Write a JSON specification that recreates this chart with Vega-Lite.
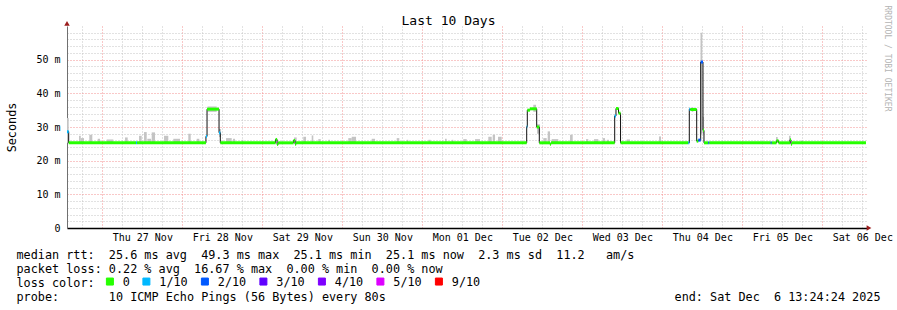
{
  "$schema": "https://vega.github.io/schema/vega-lite/v6.json",
  "width": 800,
  "height": 202,
  "autosize": {"type": "none"},
  "padding": {"left": 67, "top": 26, "right": 30, "bottom": 82},
  "background": "white",
  "config": {
    "font": "DejaVu Sans Mono",
    "view": {"stroke": null},
    "axis": {"labelFont": "DejaVu Sans Mono", "titleFont": "DejaVu Sans Mono", "titleFontWeight": "normal", "titleColor": "#000", "labelColor": "#000"}
  },
  "datasets": {
    "med": [
      {"t0":"2025-11-26T13:24:24Z","t1":"2025-11-26T13:55:00Z","v":28.6,"loss":"1/10"},
      {"t0":"2025-11-26T13:55:00Z","t1":"2025-11-27T10:07:00Z","v":25.3,"loss":"0"},
      {"t0":"2025-11-27T10:07:00Z","t1":"2025-11-27T10:25:00Z","v":25.3,"loss":"1/10"},
      {"t0":"2025-11-27T10:25:00Z","t1":"2025-11-28T07:05:00Z","v":25.3,"loss":"0"},
      {"t0":"2025-11-28T07:05:00Z","t1":"2025-11-28T07:25:00Z","v":27.2,"loss":"1/10"},
      {"t0":"2025-11-28T07:25:00Z","t1":"2025-11-28T11:01:00Z","v":35.3,"loss":"0"},
      {"t0":"2025-11-28T11:01:00Z","t1":"2025-11-28T11:24:00Z","v":28.3,"loss":"1/10"},
      {"t0":"2025-11-28T11:24:00Z","t1":"2025-11-29T03:59:00Z","v":25.3,"loss":"0"},
      {"t0":"2025-11-29T03:59:00Z","t1":"2025-11-29T04:26:00Z","v":26.3,"loss":"0"},
      {"t0":"2025-11-29T04:26:00Z","t1":"2025-11-29T04:44:00Z","v":24.8,"loss":"0"},
      {"t0":"2025-11-29T04:44:00Z","t1":"2025-11-29T09:22:00Z","v":25.3,"loss":"0"},
      {"t0":"2025-11-29T09:22:00Z","t1":"2025-11-29T09:50:00Z","v":26.0,"loss":"0"},
      {"t0":"2025-11-29T09:50:00Z","t1":"2025-11-29T10:08:00Z","v":24.9,"loss":"0"},
      {"t0":"2025-11-29T10:08:00Z","t1":"2025-12-02T07:19:00Z","v":25.3,"loss":"0"},
      {"t0":"2025-12-02T07:19:00Z","t1":"2025-12-02T07:30:00Z","v":30.1,"loss":"1/10"},
      {"t0":"2025-12-02T07:30:00Z","t1":"2025-12-02T08:18:00Z","v":35.0,"loss":"0"},
      {"t0":"2025-12-02T08:18:00Z","t1":"2025-12-02T10:19:00Z","v":35.4,"loss":"0"},
      {"t0":"2025-12-02T10:19:00Z","t1":"2025-12-02T11:06:00Z","v":30.0,"loss":"0"},
      {"t0":"2025-12-02T11:06:00Z","t1":"2025-12-02T14:18:00Z","v":25.3,"loss":"0"},
      {"t0":"2025-12-02T14:18:00Z","t1":"2025-12-02T14:36:00Z","v":24.9,"loss":"0"},
      {"t0":"2025-12-02T14:36:00Z","t1":"2025-12-03T09:43:00Z","v":25.3,"loss":"0"},
      {"t0":"2025-12-03T09:43:00Z","t1":"2025-12-03T10:06:00Z","v":33.3,"loss":"1/10"},
      {"t0":"2025-12-03T10:06:00Z","t1":"2025-12-03T10:52:00Z","v":35.5,"loss":"0"},
      {"t0":"2025-12-03T10:52:00Z","t1":"2025-12-03T11:28:00Z","v":34.1,"loss":"0"},
      {"t0":"2025-12-03T11:28:00Z","t1":"2025-12-04T07:48:00Z","v":25.3,"loss":"0"},
      {"t0":"2025-12-04T07:48:00Z","t1":"2025-12-04T08:06:00Z","v":25.3,"loss":"1/10"},
      {"t0":"2025-12-04T08:06:00Z","t1":"2025-12-04T08:24:00Z","v":35.3,"loss":"1/10"},
      {"t0":"2025-12-04T08:24:00Z","t1":"2025-12-04T10:19:00Z","v":35.2,"loss":"0"},
      {"t0":"2025-12-04T10:19:00Z","t1":"2025-12-04T10:48:00Z","v":25.8,"loss":"0"},
      {"t0":"2025-12-04T10:48:00Z","t1":"2025-12-04T11:31:00Z","v":26.1,"loss":"2/10"},
      {"t0":"2025-12-04T11:31:00Z","t1":"2025-12-04T12:12:00Z","v":49.3,"loss":"2/10"},
      {"t0":"2025-12-04T12:12:00Z","t1":"2025-12-04T12:30:00Z","v":29.0,"loss":"0"},
      {"t0":"2025-12-04T12:30:00Z","t1":"2025-12-04T13:48:00Z","v":25.3,"loss":"0"},
      {"t0":"2025-12-04T13:48:00Z","t1":"2025-12-04T14:06:00Z","v":25.3,"loss":"2/10"},
      {"t0":"2025-12-04T14:06:00Z","t1":"2025-12-05T08:31:00Z","v":25.3,"loss":"0"},
      {"t0":"2025-12-05T08:31:00Z","t1":"2025-12-05T08:49:00Z","v":25.3,"loss":"2/10"},
      {"t0":"2025-12-05T08:49:00Z","t1":"2025-12-05T10:16:00Z","v":25.3,"loss":"0"},
      {"t0":"2025-12-05T10:16:00Z","t1":"2025-12-05T10:52:00Z","v":25.9,"loss":"0"},
      {"t0":"2025-12-05T10:52:00Z","t1":"2025-12-05T14:18:00Z","v":25.3,"loss":"0"},
      {"t0":"2025-12-05T14:18:00Z","t1":"2025-12-05T14:36:00Z","v":26.2,"loss":"0"},
      {"t0":"2025-12-05T14:36:00Z","t1":"2025-12-05T14:54:00Z","v":24.9,"loss":"0"},
      {"t0":"2025-12-05T14:54:00Z","t1":"2025-12-06T13:06:00Z","v":25.3,"loss":"0"}
    ],
    "smoke": [
      {"t0":"2025-11-26T13:24:24Z","t1":"2025-11-26T13:55:00Z","lo":25.3,"hi":32.7},
      {"t0":"2025-11-26T17:01:00Z","t1":"2025-11-26T17:32:00Z","lo":25.3,"hi":27.4},
      {"t0":"2025-11-26T17:32:00Z","t1":"2025-11-26T18:31:00Z","lo":25.3,"hi":26.7},
      {"t0":"2025-11-26T20:06:00Z","t1":"2025-11-26T21:00:00Z","lo":25.3,"hi":27.7},
      {"t0":"2025-11-26T22:37:00Z","t1":"2025-11-26T23:19:00Z","lo":25.3,"hi":26.5},
      {"t0":"2025-11-27T01:19:00Z","t1":"2025-11-27T03:18:00Z","lo":25.3,"hi":26.3},
      {"t0":"2025-11-27T06:49:00Z","t1":"2025-11-27T07:37:00Z","lo":25.3,"hi":26.9},
      {"t0":"2025-11-27T11:01:00Z","t1":"2025-11-27T11:49:00Z","lo":25.3,"hi":27.4},
      {"t0":"2025-11-27T12:31:00Z","t1":"2025-11-27T13:19:00Z","lo":25.3,"hi":28.5},
      {"t0":"2025-11-27T13:30:00Z","t1":"2025-11-27T14:37:00Z","lo":25.3,"hi":26.5},
      {"t0":"2025-11-27T14:49:00Z","t1":"2025-11-27T15:49:00Z","lo":25.3,"hi":28.4},
      {"t0":"2025-11-27T18:31:00Z","t1":"2025-11-27T19:48:00Z","lo":25.3,"hi":27.4},
      {"t0":"2025-11-27T21:18:00Z","t1":"2025-11-27T23:19:00Z","lo":25.3,"hi":26.5},
      {"t0":"2025-11-28T01:48:00Z","t1":"2025-11-28T02:31:00Z","lo":25.3,"hi":28.0},
      {"t0":"2025-11-28T04:19:00Z","t1":"2025-11-28T05:06:00Z","lo":25.3,"hi":26.5},
      {"t0":"2025-11-28T07:34:00Z","t1":"2025-11-28T10:19:00Z","lo":34.5,"hi":36.1},
      {"t0":"2025-11-28T11:01:00Z","t1":"2025-11-28T11:37:00Z","lo":27.0,"hi":29.4},
      {"t0":"2025-11-28T13:07:00Z","t1":"2025-11-28T14:49:00Z","lo":25.3,"hi":26.7},
      {"t0":"2025-11-28T15:13:00Z","t1":"2025-11-28T15:49:00Z","lo":25.3,"hi":26.5},
      {"t0":"2025-11-28T17:49:00Z","t1":"2025-11-28T18:18:00Z","lo":25.3,"hi":26.2},
      {"t0":"2025-11-29T09:31:00Z","t1":"2025-11-29T10:19:00Z","lo":25.3,"hi":26.9},
      {"t0":"2025-11-29T12:18:00Z","t1":"2025-11-29T13:07:00Z","lo":25.3,"hi":27.1},
      {"t0":"2025-11-29T14:49:00Z","t1":"2025-11-29T15:18:00Z","lo":25.3,"hi":27.5},
      {"t0":"2025-11-29T16:48:00Z","t1":"2025-11-29T17:31:00Z","lo":25.3,"hi":26.4},
      {"t0":"2025-11-29T19:48:00Z","t1":"2025-11-29T20:19:00Z","lo":25.3,"hi":26.2},
      {"t0":"2025-11-30T01:48:00Z","t1":"2025-11-30T02:49:00Z","lo":25.3,"hi":26.7},
      {"t0":"2025-11-30T02:49:00Z","t1":"2025-11-30T04:07:00Z","lo":25.3,"hi":27.1},
      {"t0":"2025-11-30T08:49:00Z","t1":"2025-11-30T09:49:00Z","lo":25.3,"hi":26.5},
      {"t0":"2025-11-30T16:19:00Z","t1":"2025-11-30T17:06:00Z","lo":25.3,"hi":26.7},
      {"t0":"2025-11-30T19:19:00Z","t1":"2025-11-30T19:48:00Z","lo":25.3,"hi":26.2},
      {"t0":"2025-12-01T01:48:00Z","t1":"2025-12-01T02:31:00Z","lo":25.3,"hi":26.2},
      {"t0":"2025-12-01T06:49:00Z","t1":"2025-12-01T07:19:00Z","lo":25.3,"hi":26.5},
      {"t0":"2025-12-01T08:49:00Z","t1":"2025-12-01T09:18:00Z","lo":25.3,"hi":26.2},
      {"t0":"2025-12-01T12:18:00Z","t1":"2025-12-01T13:19:00Z","lo":25.3,"hi":26.4},
      {"t0":"2025-12-01T15:49:00Z","t1":"2025-12-01T17:19:00Z","lo":25.3,"hi":26.4},
      {"t0":"2025-12-01T19:48:00Z","t1":"2025-12-01T20:49:00Z","lo":25.3,"hi":27.1},
      {"t0":"2025-12-01T21:07:00Z","t1":"2025-12-01T21:49:00Z","lo":25.3,"hi":27.7},
      {"t0":"2025-12-01T22:43:00Z","t1":"2025-12-01T23:49:00Z","lo":25.3,"hi":27.1},
      {"t0":"2025-12-02T09:18:00Z","t1":"2025-12-02T10:07:00Z","lo":34.5,"hi":36.6},
      {"t0":"2025-12-02T10:25:00Z","t1":"2025-12-02T11:19:00Z","lo":28.0,"hi":30.8},
      {"t0":"2025-12-02T12:18:00Z","t1":"2025-12-02T13:19:00Z","lo":25.3,"hi":26.7},
      {"t0":"2025-12-02T13:37:00Z","t1":"2025-12-02T14:19:00Z","lo":25.3,"hi":28.7},
      {"t0":"2025-12-02T14:49:00Z","t1":"2025-12-02T16:48:00Z","lo":25.3,"hi":26.4},
      {"t0":"2025-12-02T20:19:00Z","t1":"2025-12-02T21:07:00Z","lo":25.3,"hi":27.7},
      {"t0":"2025-12-03T01:07:00Z","t1":"2025-12-03T01:48:00Z","lo":25.3,"hi":26.4},
      {"t0":"2025-12-03T03:31:00Z","t1":"2025-12-03T04:48:00Z","lo":25.3,"hi":26.4},
      {"t0":"2025-12-03T06:07:00Z","t1":"2025-12-03T06:49:00Z","lo":25.3,"hi":26.7},
      {"t0":"2025-12-03T07:19:00Z","t1":"2025-12-03T08:01:00Z","lo":25.3,"hi":26.2},
      {"t0":"2025-12-03T13:19:00Z","t1":"2025-12-03T14:19:00Z","lo":25.3,"hi":26.3},
      {"t0":"2025-12-03T23:01:00Z","t1":"2025-12-03T23:37:00Z","lo":25.3,"hi":27.2},
      {"t0":"2025-12-04T08:49:00Z","t1":"2025-12-04T09:18:00Z","lo":34.5,"hi":35.9},
      {"t0":"2025-12-04T11:28:00Z","t1":"2025-12-04T12:00:00Z","lo":28.0,"hi":58.0},
      {"t0":"2025-12-04T12:07:00Z","t1":"2025-12-04T12:31:00Z","lo":28.0,"hi":33.0},
      {"t0":"2025-12-05T10:07:00Z","t1":"2025-12-05T10:37:00Z","lo":25.3,"hi":27.0},
      {"t0":"2025-12-05T14:01:00Z","t1":"2025-12-05T14:31:00Z","lo":25.3,"hi":27.4},
      {"t0":"2025-12-05T17:37:00Z","t1":"2025-12-05T18:13:00Z","lo":25.3,"hi":26.0}
    ]
  },
  "layer": [
    {
      "data": {"name": "smoke"},
      "mark": {"type": "rect", "color": "#c4c4c4"},
      "encoding": {
        "x": {
          "field": "t0", "type": "temporal",
          "scale": {"type": "utc", "domain": [1764163464000, 1765027464000], "nice": false},
          "axis": {
            "orient": "bottom",
            "values": [1764244800000, 1764331200000, 1764417600000, 1764504000000, 1764590400000, 1764676800000, 1764763200000, 1764849600000, 1764936000000, 1765022400000],
            "labelExpr": "utcFormat(datum.value, '%a %d %b')",
            "labelFontSize": 10, "labelPadding": 4, "labelBaseline": "top", "labelFlush": false, "labelOverlap": false,
            "ticks": false, "grid": false,
            "domain": true, "domainColor": "#000", "domainWidth": 1.5,
            "title": ["median rtt:\u00a0\u00a025.6 ms avg\u00a0\u00a049.3 ms max\u00a0\u00a025.1 ms min\u00a0\u00a025.1 ms now\u00a0\u00a02.3 ms sd\u00a0\u00a011.2\u00a0\u00a0\u00a0am/s", "packet loss: 0.22 % avg\u00a0\u00a016.67 % max\u00a0\u00a00.00 % min\u00a0\u00a00.00 % now", "loss color:", "probe:\u00a0\u00a0\u00a0\u00a0\u00a0\u00a0\u00a010 ICMP Echo Pings (56 Bytes) every 80s"],
            "titleX": -51, "titleY": 30.5, "titleAlign": "left", "titleBaseline": "alphabetic", "titleAngle": 0,
            "titleFontSize": 11.8, "titleLineHeight": 14
          }
        },
        "x2": {"field": "t1"},
        "y": {
          "field": "lo", "type": "quantitative",
          "scale": {"domain": [0, 60], "nice": false, "zero": true},
          "axis": {
            "orient": "left",
            "values": [0, 10, 20, 30, 40, 50],
            "labelExpr": "datum.value == 0 ? '0' : datum.value + ' m'",
            "labelFontSize": 10, "labelPadding": 7,
            "ticks": false,
            "grid": true, "gridColor": "#f29090", "gridDash": [1, 2], "gridWidth": 1,
            "domain": true, "domainColor": "#707070", "domainWidth": 1,
            "title": "Seconds", "titleX": -56, "titleY": 101, "titleAngle": -90,
            "titleAlign": "center", "titleBaseline": "middle", "titleFontSize": 11.8
          }
        },
        "y2": {"field": "hi"}
      }
    },
    {
      "data": {"name": "med"},
      "mark": {"type": "line", "interpolate": "step-after", "color": "#111", "strokeWidth": 1},
      "encoding": {
        "x": {
          "field": "t0", "type": "temporal",
          "axis": {
            "orient": "top",
            "values": [1764201600000, 1764288000000, 1764374400000, 1764460800000, 1764547200000, 1764633600000, 1764720000000, 1764806400000, 1764892800000, 1764979200000],
            "labels": false, "ticks": false, "domain": false,
            "grid": true, "gridColor": "#f29090", "gridDash": [1, 2], "gridWidth": 1,
            "title": "Last 10 Days", "titleX": 381, "titleY": -2, "titleAlign": "center",
            "titleBaseline": "alphabetic", "titleAngle": 0, "titleFontSize": 13
          }
        },
        "y": {
          "field": "v", "type": "quantitative",
          "axis": {
            "orient": "right",
            "labels": false, "ticks": false, "domain": false, "grid": false,
            "title": "RRDTOOL / TOBI OETIKER", "titleX": 19, "titleY": -21, "titleAngle": 90,
            "titleAlign": "left", "titleBaseline": "middle", "titleFontSize": 8, "titleColor": "#b4b4b4"
          }
        }
      }
    },
    {
      "data": {"name": "med"},
      "mark": {"type": "rule", "strokeWidth": 3},
      "encoding": {
        "x": {
          "field": "t0", "type": "temporal",
          "axis": {
            "orient": "top",
            "values": [1764180000000, 1764223200000, 1764244800000, 1764266400000, 1764309600000, 1764331200000, 1764352800000, 1764396000000, 1764417600000, 1764439200000, 1764482400000, 1764504000000, 1764525600000, 1764568800000, 1764590400000, 1764612000000, 1764655200000, 1764676800000, 1764698400000, 1764741600000, 1764763200000, 1764784800000, 1764828000000, 1764849600000, 1764871200000, 1764914400000, 1764936000000, 1764957600000, 1765000800000, 1765022400000],
            "labels": false, "ticks": false, "domain": false,
            "grid": true, "gridColor": "#c4c4c4", "gridDash": [1, 2], "gridWidth": 1,
            "title": "end: Sat Dec\u00a0\u00a06 13:24:24 2025", "titleX": 813, "titleY": 274.5, "titleAlign": "right",
            "titleBaseline": "alphabetic", "titleAngle": 0, "titleFontSize": 11.8
          }
        },
        "x2": {"field": "t1"},
        "y": {
          "field": "v", "type": "quantitative",
          "axis": {
            "orient": "left",
            "values": [2, 4, 6, 8, 12, 14, 16, 18, 22, 24, 26, 28, 32, 34, 36, 38, 42, 44, 46, 48, 52, 54, 56, 58],
            "labels": false, "ticks": false, "domain": false,
            "grid": true, "gridColor": "#c4c4c4", "gridDash": [1, 2], "gridWidth": 1,
            "title": null
          }
        },
        "color": {
          "field": "loss", "type": "nominal",
          "scale": {"domain": ["0", "1/10", "2/10", "3/10", "4/10", "5/10", "9/10"], "range": ["#26ff00", "#00b8ff", "#0059ff", "#5e00ff", "#7e00ff", "#dd00ff", "#ff0000"]},
          "legend": {
            "orient": "none", "legendX": 37, "legendY": 249.5, "direction": "horizontal", "columns": 7,
            "title": null, "symbolType": "square", "symbolSize": 49, "symbolStrokeWidth": 1, "symbolStrokeColor": "#000",
            "labelFont": "DejaVu Sans Mono", "labelFontSize": 11.8, "labelColor": "#000", "labelOffset": 7,
            "columnPadding": 10.5, "padding": 0,
            "encode": {"symbols": {"update": {"fill": {"scale": "color", "field": "value"}, "stroke": {"value": "#000"}, "strokeWidth": {"value": 1}, "opacity": {"value": 1}}}}
          }
        }
      }
    },
    {
      "data": {"values": [{"a": 1}]},
      "mark": {"type": "point", "shape": "triangle-right", "filled": true, "color": "#9b1c1c", "size": 30, "opacity": 1},
      "encoding": {
        "x": {"datum": 1765029624000, "type": "temporal", "axis": null},
        "y": {"datum": 0, "type": "quantitative", "axis": null}
      }
    },
    {
      "data": {"values": [{"a": 1}]},
      "mark": {"type": "point", "shape": "triangle-up", "filled": true, "color": "#9b1c1c", "size": 30, "opacity": 1},
      "encoding": {
        "x": {"datum": 1764163464000, "type": "temporal", "axis": null},
        "y": {"datum": 60.8, "type": "quantitative", "axis": null}
      }
    }
  ],
  "resolve": {"axis": {"x": "independent", "y": "independent"}}
}
